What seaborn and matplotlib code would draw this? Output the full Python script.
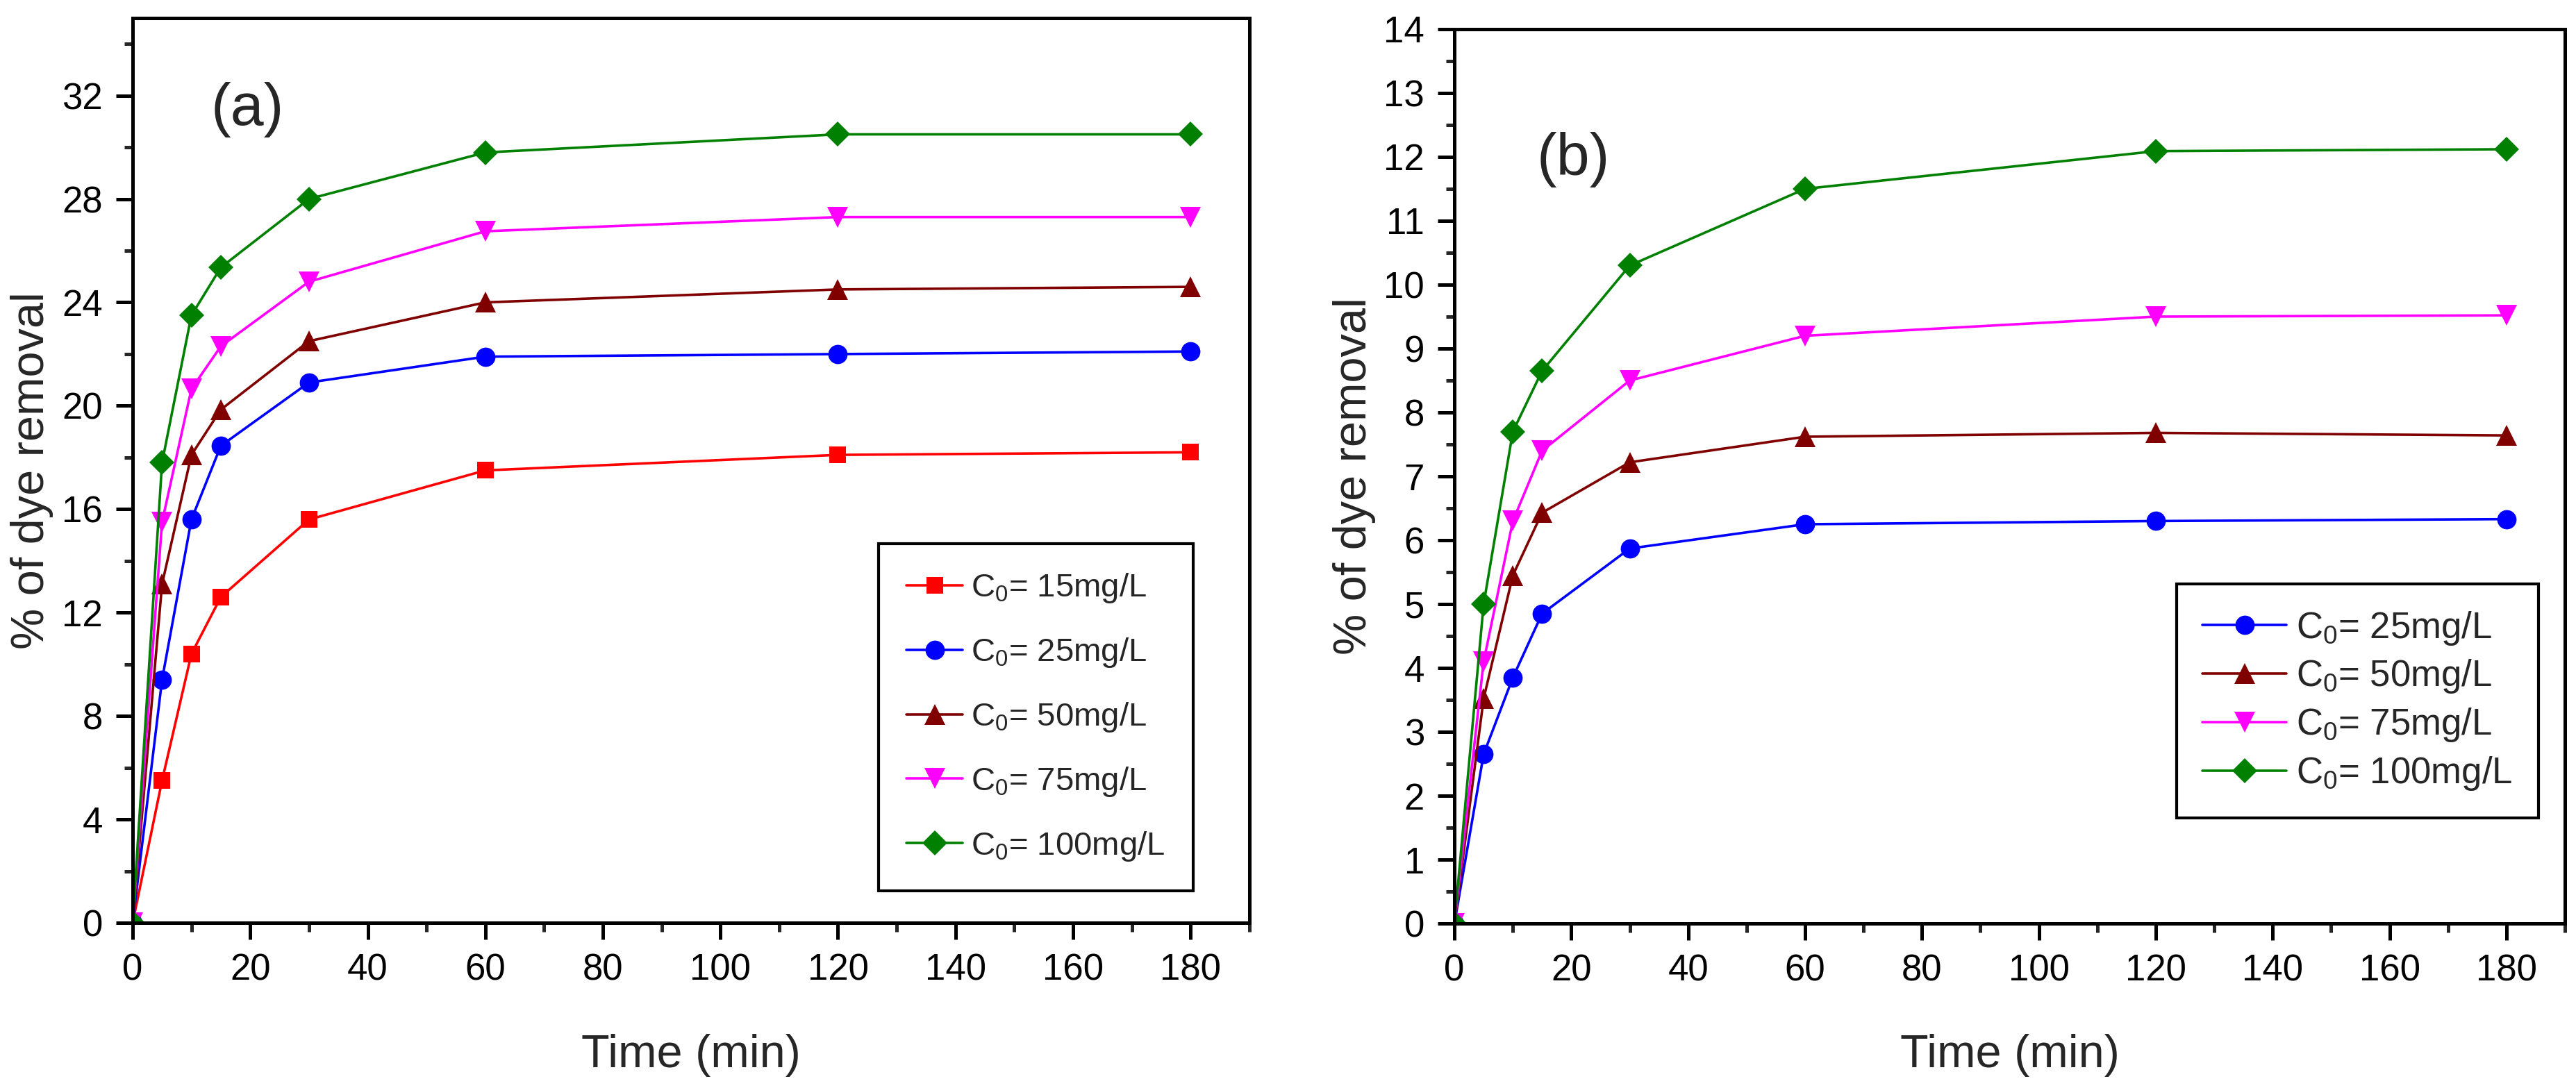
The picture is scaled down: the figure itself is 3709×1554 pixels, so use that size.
import numpy as np
import pandas as pd
import matplotlib
matplotlib.use("Agg")
import matplotlib.pyplot as plt
from matplotlib import font_manager
from matplotlib.ticker import MultipleLocator
import seaborn as sns

# data
time_min = [0, 5, 10, 15, 30, 60, 120, 180]

# panel (a)
a_15 = [0, 5.5, 10.4, 12.6, 15.6, 17.5, 18.1, 18.2]
a_25 = [0, 9.4, 15.6, 18.45, 20.9, 21.9, 22.0, 22.1]
a_50 = [0, 13.1, 18.1, 19.85, 22.5, 24.0, 24.5, 24.6]
a_75 = [0, 15.5, 20.65, 22.3, 24.8, 26.75, 27.3, 27.3]
a_100 = [0, 17.8, 23.5, 25.35, 28.0, 29.8, 30.5, 30.5]

# panel (b)
b_25 = [0, 2.65, 3.85, 4.85, 5.87, 6.25, 6.3, 6.33]
b_50 = [0, 3.52, 5.45, 6.43, 7.22, 7.62, 7.68, 7.64]
b_75 = [0, 4.1, 6.3, 7.4, 8.5, 9.2, 9.5, 9.52]
b_100 = [0, 5.0, 7.7, 8.65, 10.3, 11.5, 12.09, 12.12]

labels = [r"$\mathregular{C_0}$= 15mg/L", r"$\mathregular{C_0}$= 25mg/L",
          r"$\mathregular{C_0}$= 50mg/L", r"$\mathregular{C_0}$= 75mg/L",
          r"$\mathregular{C_0}$= 100mg/L"]
colors = ["#ff0000", "#0000ff", "#800000", "#ff00ff", "#008000"]
markers = ["s", "o", "^", "v", "D"]
msizes = [8.5, 10, 11, 11, 9]


def have_font(name):
    try:
        font_manager.findfont(font_manager.FontProperties(family=name),
                              fallback_to_default=False)
        return True
    except Exception:
        return False


sns.set_style("ticks")
narrow = "Liberation Sans Narrow" if have_font("Liberation Sans Narrow") else "Liberation Sans"
plt.rcParams["font.family"] = [narrow, "DejaVu Sans"]
plt.rcParams["mathtext.fontset"] = "custom"
plt.rcParams["mathtext.rm"] = narrow
plt.rcParams["axes.linewidth"] = 1.8

fig = plt.figure(figsize=(3709 / 200, 1554 / 200), dpi=200)
ax1 = fig.add_axes([0.0515, 0.1448, 0.4335, 0.8385])
ax2 = fig.add_axes([0.5646, 0.1441, 0.4311, 0.8289])


def draw(ax, series, idx):
    for vals, i in zip(series, idx):
        sns.lineplot(x=time_min, y=vals, ax=ax, color=colors[i], marker=markers[i],
                     markersize=msizes[i], markeredgecolor=colors[i],
                     markeredgewidth=0, linewidth=1.3, label=labels[i],
                     errorbar=None, sort=False)


draw(ax1, [a_15, a_25, a_50, a_75, a_100], [0, 1, 2, 3, 4])
draw(ax2, [b_25, b_50, b_75, b_100], [1, 2, 3, 4])

ax1.set_xlim(0, 190)
ax1.set_ylim(0, 35)
ax1.yaxis.set_major_locator(MultipleLocator(4))
ax1.yaxis.set_minor_locator(MultipleLocator(2))
ax2.set_xlim(0, 190)
ax2.set_ylim(0, 14)
ax2.yaxis.set_major_locator(MultipleLocator(1))
ax2.yaxis.set_minor_locator(MultipleLocator(0.5))

for ax in (ax1, ax2):
    ax.set_xticks([t for t in range(0, 181, 20)])
    ax.xaxis.set_minor_locator(MultipleLocator(10))
    ax.tick_params(which="major", direction="out", length=8.5, width=1.8,
                   labelsize=19, pad=7, colors="black")
    ax.tick_params(which="minor", direction="out", length=4.5, width=1.8)
    ax.tick_params(top=False, right=False, which="both")
    for sp in ax.spines.values():
        sp.set_visible(True)
        sp.set_color("black")
        sp.set_linewidth(1.8)
    ax.set_xlabel("Time (min)", fontsize=24)
    ax.set_ylabel("% of dye removal", fontsize=24, family=["Liberation Sans", "DejaVu Sans"])
    ax.xaxis.set_label_coords(0.5, -0.123)
    ax.xaxis.label.set_va("top")
    ax.yaxis.set_label_coords(-0.071, 0.5)

ax1.text(0.103, 0.899, "(a)", transform=ax1.transAxes, fontsize=31,
         ha="center", va="center")
ax2.text(0.107, 0.854, "(b)", transform=ax2.transAxes, fontsize=31,
         ha="center", va="center")

leg1 = ax1.legend(loc="lower right", bbox_to_anchor=(0.9496, 0.0353), borderaxespad=0,
                  fontsize=17, frameon=True, fancybox=False, framealpha=1,
                  edgecolor="black", handlelength=1.72, handletextpad=0.26,
                  borderpad=0.85, labelspacing=0.95)
leg1.get_frame().set_linewidth(1.5)
leg2 = ax2.legend(loc="lower right", bbox_to_anchor=(0.976, 0.118), borderaxespad=0,
                  fontsize=19, frameon=True, fancybox=False, framealpha=1,
                  edgecolor="black", handlelength=2.3, handletextpad=0.26,
                  borderpad=0.7, labelspacing=0.3)
leg2.get_frame().set_linewidth(1.5)

fig.savefig("out.png", dpi=200)
